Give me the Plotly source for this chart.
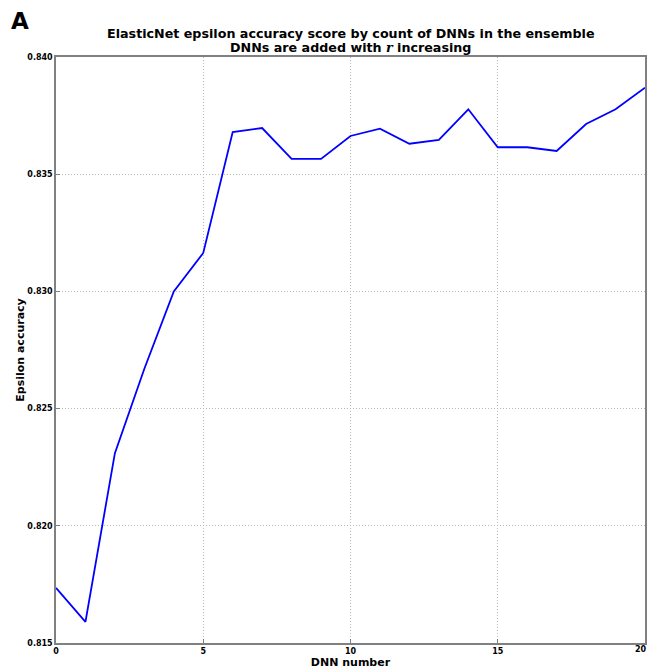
import plotly.graph_objects as go

dnn_number = list(range(21))
epsilon_accuracy = [0.81735, 0.8159, 0.8231, 0.8267, 0.8300, 0.83164, 0.8368, 0.83697,
                    0.83565, 0.83565, 0.83663, 0.83694, 0.8363, 0.83646, 0.83777,
                    0.83615, 0.83615, 0.83599, 0.83714, 0.83777, 0.83869]
x_ticks = [0, 5, 10, 15, 20]
y_ticks = [0.815, 0.820, 0.825, 0.830, 0.835, 0.840]
title_lines = ["ElasticNet epsilon accuracy score by count of DNNs in the ensemble",
               "DNNs are added with <i style='font-family:DejaVu Serif'>r</i> increasing"]

FONT = "DejaVu Sans"
W, H = 649, 671

fig = go.Figure()
fig.add_trace(go.Scatter(x=dnn_number, y=epsilon_accuracy, mode="lines",
                         line=dict(color="#0000ff", width=1.8), showlegend=False))

axis_common = dict(showline=True, linecolor="#808080", linewidth=1.5, mirror=True,
                   showgrid=True, gridcolor="#b8b8b8", griddash="1px,2px", gridwidth=1,
                   ticks="inside", ticklen=4, tickcolor="#808080", zeroline=False)

tick_font = dict(family=FONT, size=8, weight="bold")
title_font = dict(family=FONT, size=12.7, weight="bold", color="black")
# last x tick label sits at the page edge: draw it right-aligned so it is not clipped
x_ticktext = [str(v) for v in x_ticks[:-1]] + [""]
annotations = [
    dict(text=title_lines[0], x=0.5, y=1.0, xref="paper", yref="paper",
         xanchor="center", yanchor="middle", yshift=24, showarrow=False, font=title_font),
    dict(text=title_lines[1], x=0.5, y=1.0, xref="paper", yref="paper",
         xanchor="center", yanchor="middle", yshift=10, showarrow=False, font=title_font),
    dict(text="A", x=0.0, y=1.0, xref="paper", yref="paper",
         xanchor="left", yanchor="top", xshift=-47, yshift=51,
         showarrow=False, font=dict(family=FONT, size=23, weight="bold")),
    dict(text=str(x_ticks[-1]), x=x_ticks[-1], y=0, xref="x", yref="paper",
         xanchor="right", yanchor="top", xshift=3, yshift=-1, borderpad=0,
         showarrow=False, font=tick_font),
]

fig.update_layout(
    width=W, height=H,
    margin=dict(l=56, r=4, t=57, b=28, autoexpand=False),
    paper_bgcolor="white", plot_bgcolor="white",
    font=dict(family=FONT, color="black"),
    xaxis=dict(range=[0, 20], tickvals=x_ticks, ticktext=x_ticktext,
               tickfont=tick_font,
               title=dict(text="DNN number", font=dict(family=FONT, size=11, weight="bold"),
                          standoff=0),
               **axis_common),
    yaxis=dict(range=[0.815, 0.840], tickvals=y_ticks, ticktext=[f"{v:.3f}" for v in y_ticks],
               tickfont=tick_font,
               title=dict(text="Epsilon accuracy", font=dict(family=FONT, size=11, weight="bold"),
                          standoff=0),
               **axis_common),
    annotations=annotations,
)

fig.write_html("out.html",
               config={"displayModeBar": False},
               post_script="document.body.style.margin='0';"
                           "document.documentElement.style.overflow='hidden';"
                           "document.body.style.overflow='hidden';")
